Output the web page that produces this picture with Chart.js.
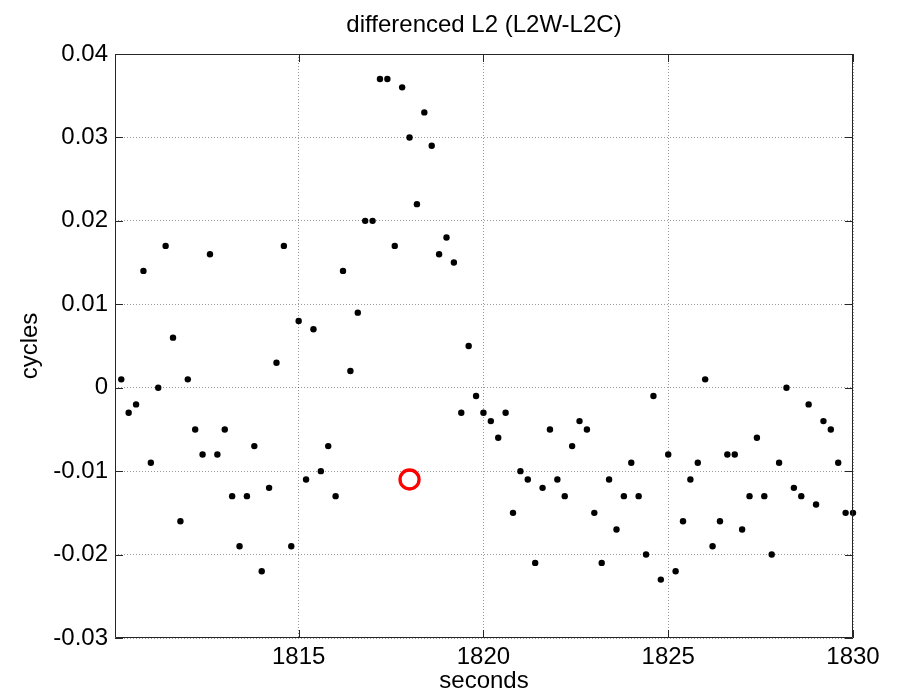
<!DOCTYPE html>
<html>
<head>
<meta charset="utf-8">
<script src="https://cdn.jsdelivr.net/npm/chart.js@4"></script>
<style>
  html, body { margin: 0; padding: 0; background: #fff; }
  #wrap { width: 898px; height: 698px; }
</style>
</head>
<body>
<div id="wrap"><canvas id="myChart" width="898" height="698"></canvas></div>
<script>
// data
var times = [
  1810.2, 1810.4, 1810.6, 1810.8, 1811.0, 1811.2, 1811.4, 1811.6, 1811.8, 1812.0,
  1812.2, 1812.4, 1812.6, 1812.8, 1813.0, 1813.2, 1813.4, 1813.6, 1813.8, 1814.0,
  1814.2, 1814.4, 1814.6, 1814.8, 1815.0, 1815.2, 1815.4, 1815.6, 1815.8, 1816.0,
  1816.2, 1816.4, 1816.6, 1816.8, 1817.0, 1817.2, 1817.4, 1817.6, 1817.8, 1818.0,
  1818.2, 1818.4, 1818.6, 1818.8, 1819.0, 1819.2, 1819.4, 1819.6, 1819.8, 1820.0,
  1820.2, 1820.4, 1820.6, 1820.8, 1821.0, 1821.2, 1821.4, 1821.6, 1821.8, 1822.0,
  1822.2, 1822.4, 1822.6, 1822.8, 1823.0, 1823.2, 1823.4, 1823.6, 1823.8, 1824.0,
  1824.2, 1824.4, 1824.6, 1824.8, 1825.0, 1825.2, 1825.4, 1825.6, 1825.8, 1826.0,
  1826.2, 1826.4, 1826.6, 1826.8, 1827.0, 1827.2, 1827.4, 1827.6, 1827.8, 1828.0,
  1828.2, 1828.4, 1828.6, 1828.8, 1829.0, 1829.2, 1829.4, 1829.6, 1829.8, 1830.0
];
var cycles = [
  0.001, -0.003, -0.002, 0.014, -0.009, 0.000, 0.017, 0.006, -0.016, 0.001,
  -0.005, -0.008, 0.016, -0.008, -0.005, -0.013, -0.019, -0.013, -0.007, -0.022,
  -0.012, 0.003, 0.017, -0.019, 0.008, -0.011, 0.007, -0.010, -0.007, -0.013,
  0.014, 0.002, 0.009, 0.020, 0.020, 0.037, 0.037, 0.017, 0.036, 0.030,
  0.022, 0.033, 0.029, 0.016, 0.018, 0.015, -0.003, 0.005, -0.001, -0.003,
  -0.004, -0.006, -0.003, -0.015, -0.010, -0.011, -0.021, -0.012, -0.005, -0.011,
  -0.013, -0.007, -0.004, -0.005, -0.015, -0.021, -0.011, -0.017, -0.013, -0.009,
  -0.013, -0.020, -0.001, -0.023, -0.008, -0.022, -0.016, -0.011, -0.009, 0.001,
  -0.019, -0.016, -0.008, -0.008, -0.017, -0.013, -0.006, -0.013, -0.020, -0.009,
  0.000, -0.012, -0.013, -0.002, -0.014, -0.004, -0.005, -0.009, -0.015, -0.015
];
var markTime = [1818.0];
var markValue = [-0.011];

var xTicks = [1815, 1820, 1825, 1830];
var xTickLabels = ["1815", "1820", "1825", "1830"];
var yTicks = [-0.03, -0.02, -0.01, 0, 0.01, 0.02, 0.03, 0.04];
var yTickLabels = ["-0.03", "-0.02", "-0.01", "0", "0.01", "0.02", "0.03", "0.04"];

var FONT = "'Liberation Sans', Arial, Helvetica, sans-serif";

// matlab style box with inward ticks
var boxPlugin = {
  id: 'box',
  afterDraw: function (chart) {
    var ctx = chart.ctx, a = chart.chartArea;
    var xs = chart.scales.x, ys = chart.scales.y;
    ctx.save();
    ctx.strokeStyle = '#262626';
    ctx.lineWidth = 1;
    ctx.beginPath();
    ctx.rect(a.left + 0.5, a.top + 0.5, a.right - a.left - 1, a.bottom - a.top - 1);
    xTicks.forEach(function (v) {
      var px = Math.round(xs.getPixelForValue(v)) + 0.5;
      ctx.moveTo(px, a.bottom); ctx.lineTo(px, a.bottom - 8);
      ctx.moveTo(px, a.top); ctx.lineTo(px, a.top + 8);
    });
    yTicks.forEach(function (v) {
      var py = Math.round(ys.getPixelForValue(v)) + 0.5;
      ctx.moveTo(a.left, py); ctx.lineTo(a.left + 8, py);
      ctx.moveTo(a.right, py); ctx.lineTo(a.right - 8, py);
    });
    ctx.stroke();
    ctx.restore();
  }
};

new Chart("myChart", {
  type: "scatter",
  data: {
    datasets: [{
      data: times.map(function (t, i) { return {x: t, y: cycles[i]}; }),
      backgroundColor: "#000",
      borderWidth: 0,
      pointRadius: 3.2,
      clip: false
    }, {
      data: markTime.map(function (t, i) { return {x: t, y: markValue[i]}; }),
      backgroundColor: "rgba(0,0,0,0)",
      borderColor: "#ff0000",
      borderWidth: 3.3,
      pointRadius: 9.5,
      clip: false
    }]
  },
  options: {
    responsive: false,
    animation: false,
    events: [],
    layout: {padding: {left: 0, right: 45, top: 0, bottom: 0}},
    plugins: {
      legend: {display: false},
      tooltip: {enabled: false},
      title: {
        display: true,
        text: "differenced L2 (L2W-L2C)",
        fullSize: false,
        color: "#000",
        font: {family: FONT, size: 24, weight: "normal", lineHeight: 1.2},
        padding: {top: 11, bottom: 14.2}
      }
    },
    scales: {
      x: {
        type: "linear",
        min: 1810.03,
        max: 1830,
        afterBuildTicks: function (s) { s.ticks = xTicks.map(function (v) { return {value: v}; }); },
        afterFit: function (s) { s.height = 60; },
        ticks: {
          color: "#000",
          font: {family: FONT, size: 24},
          padding: 5,
          maxRotation: 0,
          callback: function (v, i) { return xTickLabels[i]; }
        },
        grid: {color: "rgba(0,0,0,0.4)", drawTicks: false, lineWidth: 1},
        border: {display: false, dash: [1, 2]},
        title: {
          display: true,
          text: "seconds",
          color: "#000",
          font: {family: FONT, size: 24, lineHeight: 1},
          padding: {top: 0, bottom: 5}
        }
      },
      y: {
        min: -0.03,
        max: 0.04,
        afterBuildTicks: function (s) { s.ticks = yTicks.map(function (v) { return {value: v}; }); },
        afterFit: function (s) { s.width = 115; },
        ticks: {
          color: "#000",
          font: {family: FONT, size: 24},
          padding: 7,
          callback: function (v, i) { return yTickLabels[i]; }
        },
        grid: {color: "rgba(0,0,0,0.4)", drawTicks: false, lineWidth: 1},
        border: {display: false, dash: [1, 2]},
        title: {
          display: true,
          text: "cycles",
          color: "#000",
          font: {family: FONT, size: 24, lineHeight: 1},
          padding: {top: 18, bottom: 0}
        }
      }
    }
  },
  plugins: [boxPlugin]
});
</script>
</body>
</html>
